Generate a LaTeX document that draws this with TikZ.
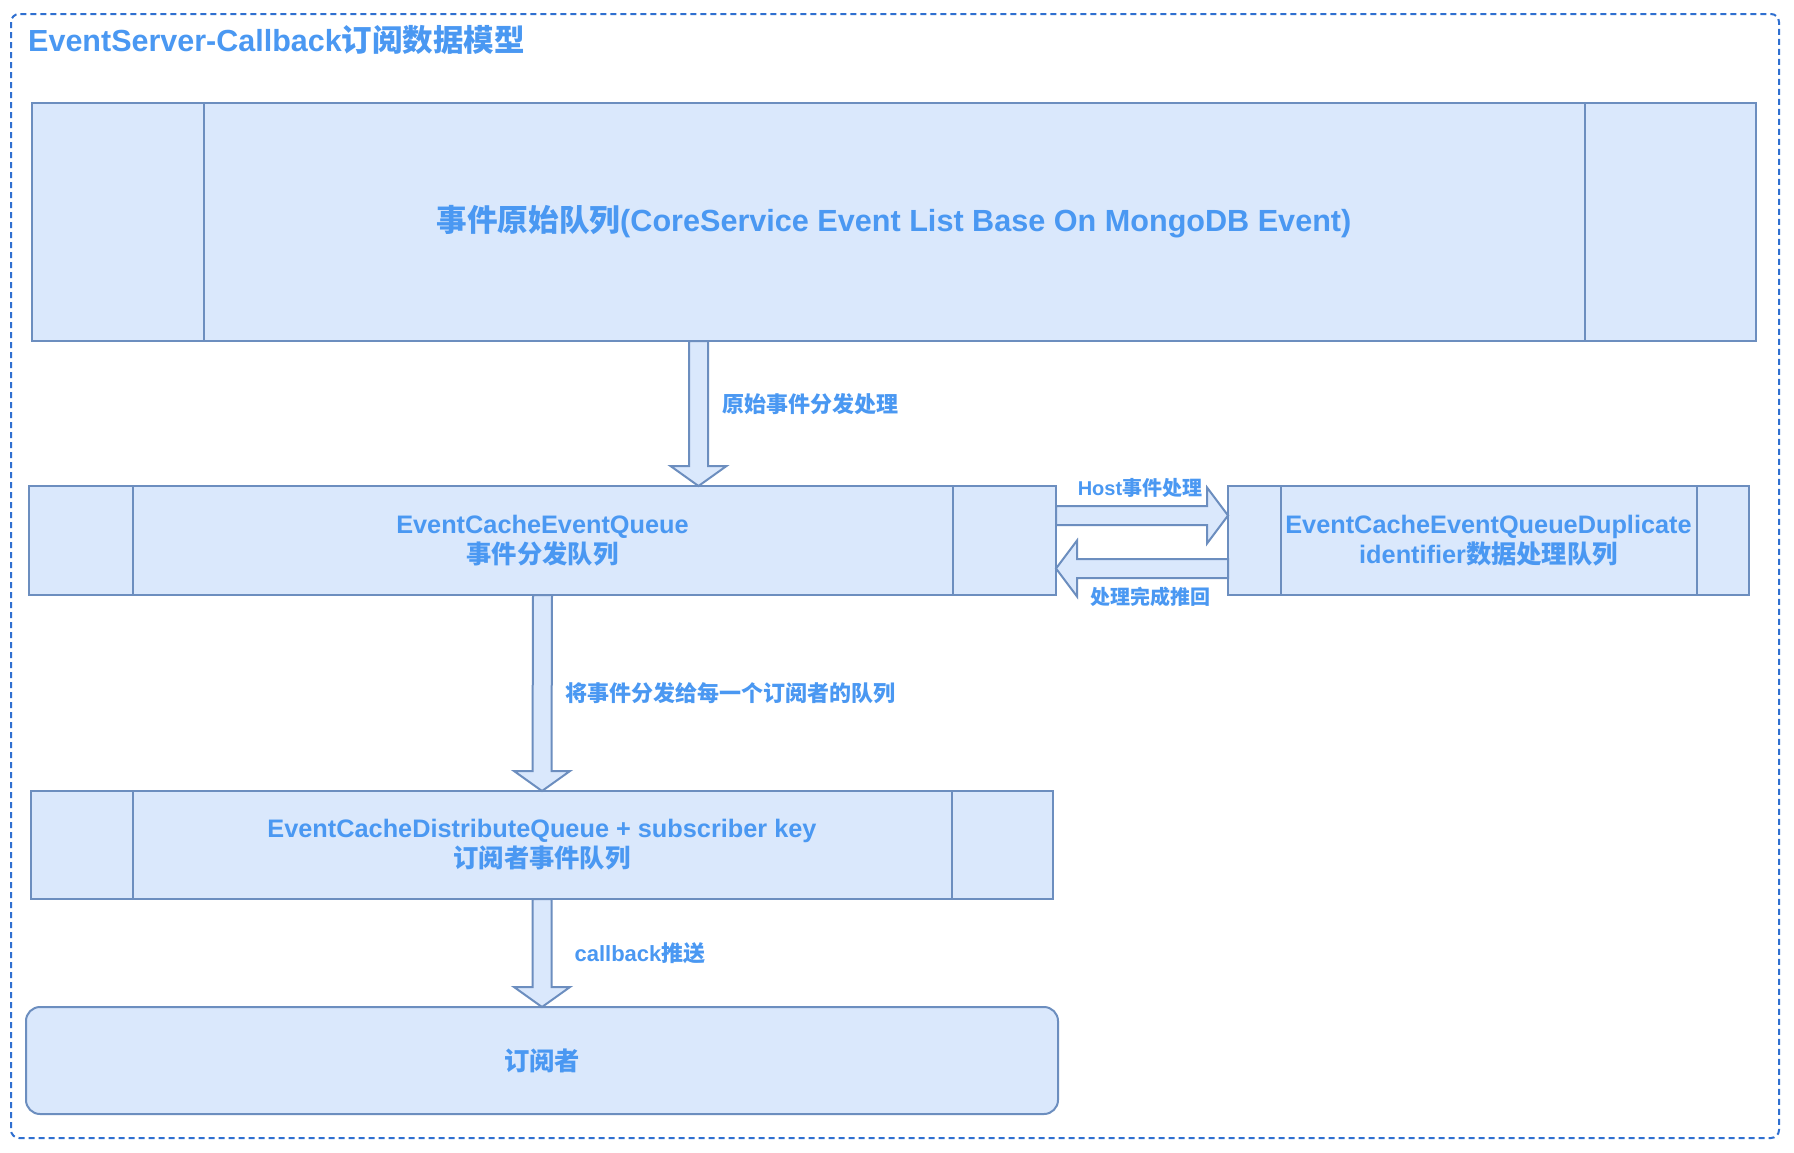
\documentclass[tikz,border=0pt]{standalone}
\usepackage{fontspec}
\setmainfont{Liberation Sans}
\newfontfamily\cjk{Noto Sans CJK SC}
\usetikzlibrary{calc}
\definecolor{txt}{HTML}{4A98F2}
\definecolor{fillb}{HTML}{DAE8FC}
\definecolor{strokeb}{HTML}{6C8EBF}
\definecolor{dashb}{HTML}{2F6FD0}
\newcommand\zh[1]{{\cjk\bfseries #1}}
\newcommand\downarr[2]{\draw[barrow] ($(#1)+(-9.5,0)$) -- ($(#2)+(-9.5,-20)$) -- ($(#2)+(-28,-20)$) -- (#2) -- ($(#2)+(28,-20)$) -- ($(#2)+(9.5,-20)$) -- ($(#1)+(9.5,0)$) -- cycle;}
\newcommand\rightarr[2]{\draw[barrow] ($(#1)+(0,-9.5)$) -- ($(#2)+(-21,-9.5)$) -- ($(#2)+(-21,-28)$) -- (#2) -- ($(#2)+(-21,28)$) -- ($(#2)+(-21,9.5)$) -- ($(#1)+(0,9.5)$) -- cycle;}
\newcommand\leftarr[2]{\draw[barrow] ($(#1)+(0,-9.5)$) -- ($(#2)+(21,-9.5)$) -- ($(#2)+(21,-28)$) -- (#2) -- ($(#2)+(21,28)$) -- ($(#2)+(21,9.5)$) -- ($(#1)+(0,9.5)$) -- cycle;}
\tikzset{
  qbox/.style={draw=strokeb, fill=fillb, line width=2pt, inner sep=0pt, outer sep=0pt, anchor=north west, align=center, text=txt, font=\bfseries\fontsize{25.3}{30}\selectfont},
  divline/.style={draw=strokeb, line width=2pt},
  barrow/.style={draw=strokeb, fill=fillb, line width=2pt, line join=miter},
  lbl/.style={text=txt, inner sep=0pt, font=\bfseries\fontsize{22}{26}\selectfont},
  lblsm/.style={text=txt, inner sep=0pt, font=\bfseries\fontsize{20}{24}\selectfont},
}
\begin{document}
\begin{tikzpicture}[x=1pt,y=-1pt]
\useasboundingbox (0,0) rectangle (1794,1152);
\fill[white] (0,0) rectangle (1794,1152);
% outer frame
\draw[dashb, line width=2pt, dash pattern=on 6pt off 4pt, rounded corners=8pt] (11,14) rectangle (1779,1138);
\node[anchor=west, inner sep=0pt, text=txt, font=\bfseries\fontsize{30.5}{36}\selectfont] (title) at (28,40) {EventServer-Callback\zh{订阅数据模型}};
% boxes
\node[qbox, minimum width=1724pt, minimum height=238pt, font=\bfseries\fontsize{30.6}{36}\selectfont] (top) at (32,103) {\zh{事件原始队列}(CoreService Event List Base On MongoDB Event)};
\draw[divline] ($(top.north west)+(172,0)$) -- ($(top.south west)+(172,0)$);
\draw[divline] ($(top.north east)+(-171,0)$) -- ($(top.south east)+(-171,0)$);

\node[qbox, minimum width=1027pt, minimum height=109pt] (mid) at (29,486) {EventCacheEventQueue\\\zh{事件分发队列}};
\draw[divline] ($(mid.north west)+(104,0)$) -- ($(mid.south west)+(104,0)$);
\draw[divline] ($(mid.north east)+(-103,0)$) -- ($(mid.south east)+(-103,0)$);

\node[qbox, minimum width=521pt, minimum height=109pt] (dup) at (1228,486) {EventCacheEventQueueDuplicate\\identifier\zh{数据处理队列}};
\draw[divline] ($(dup.north west)+(53,0)$) -- ($(dup.south west)+(53,0)$);
\draw[divline] ($(dup.north east)+(-52,0)$) -- ($(dup.south east)+(-52,0)$);

\node[qbox, minimum width=1022pt, minimum height=108pt] (dist) at (31,791) {EventCacheDistributeQueue + subscriber key\\\zh{订阅者事件队列}};
\draw[divline] ($(dist.north west)+(102,0)$) -- ($(dist.south west)+(102,0)$);
\draw[divline] ($(dist.north east)+(-101,0)$) -- ($(dist.south east)+(-101,0)$);

\node[qbox, rounded corners=14pt, minimum width=1032pt, minimum height=107pt] (sub) at (26,1007) {\zh{订阅者}};

% arrows
\coordinate (a1x) at (698.5,0);
\coordinate (a1s) at (a1x |- top.south);
\coordinate (a1e) at (a1x |- mid.north);
\downarr{a1s}{a1e}
\downarr{mid.south}{dist.north}
\downarr{dist.south}{sub.north}
\coordinate (h1s) at ($(mid.east)+(0,-25)$);
\coordinate (h1e) at ($(dup.west)+(0,-25)$);
\rightarr{h1s}{h1e}
\coordinate (h2s) at ($(dup.west)+(0,28)$);
\coordinate (h2e) at ($(mid.east)+(0,28)$);
\leftarr{h2s}{h2e}

% labels
\node[lbl] (l1) at (810,404) {\zh{原始事件分发处理}};
\node[lbl] (l2) at (730,693) {\zh{将事件分发给每一个订阅者的队列}};
\node[lbl] (l3) at (640,953) {callback\zh{推送}};
\node[lblsm] (l4) at (1140,488) {Host\zh{事件处理}};
\node[lblsm] (l5) at (1150,597) {\zh{处理完成推回}};
\end{tikzpicture}
\end{document}
